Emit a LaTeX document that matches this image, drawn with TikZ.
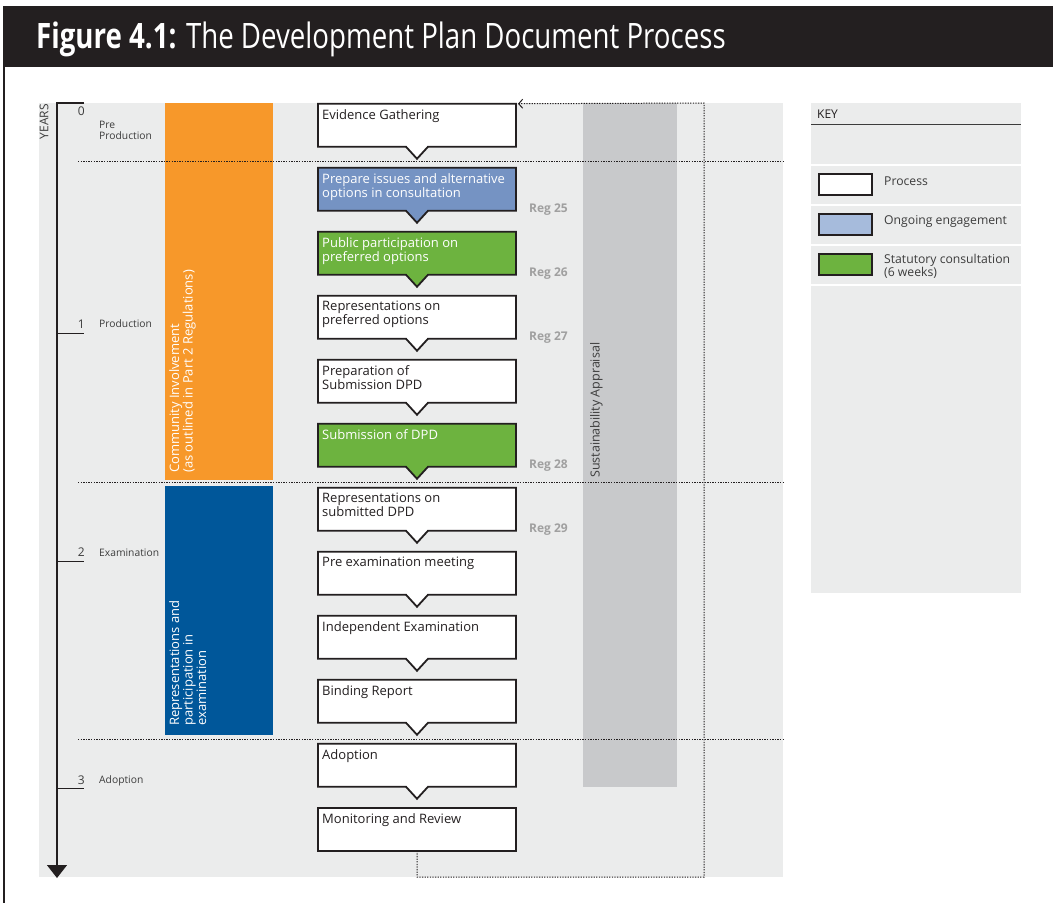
\documentclass[tikz,border=0pt]{standalone}
\usepackage{fontspec}
\setmainfont{Open Sans}
\newfontfamily\titlefont[FakeStretch=0.79]{Open Sans}
\usetikzlibrary{arrows.meta}
\definecolor{bg}{HTML}{EBECEC}
\definecolor{ink}{HTML}{231F20}
\definecolor{orangebar}{HTML}{F7982A}
\definecolor{navy}{HTML}{00579A}
\definecolor{sagray}{HTML}{C8C9CB}
\definecolor{engage}{HTML}{7593C3}
\definecolor{engagekey}{HTML}{A6BBDC}
\definecolor{statgreen}{HTML}{6DB33F}
\definecolor{reggray}{HTML}{A0A0A0}
\definecolor{labgray}{HTML}{3C3C3C}
\newcommand\topstrut{\rule{0pt}{9.5pt}}
\tikzset{
  boxslot/.style={rectangle, minimum width=198pt, minimum height=43pt, inner sep=0pt, outer sep=0pt},
  procline/.style={draw=ink, line width=1.8pt, line join=miter},
  lastbox/.style={boxslot, draw=ink, line width=1.8pt, fill=white},
  boxtext/.style={anchor=north west, inner sep=0pt, align=left,
    font=\fontsize{13}{14.2}\selectfont, text=ink},
  wtext/.style={boxtext, text=white},
  reglabel/.style={anchor=base west, inner sep=0pt,
    font=\bfseries\fontsize{12}{14}\selectfont, text=reggray},
  divider/.style={draw=ink, line width=0.9pt, dash pattern=on 1.3pt off 1.3pt},
  yearnum/.style={anchor=east, inner sep=0pt, font=\fontsize{12}{14}\selectfont, text=labgray},
  yearlab/.style={anchor=west, inner sep=0pt, align=left, font=\fontsize{10.3}{11}\selectfont, text=labgray},
  bartext/.style={rotate=90, anchor=north west, inner sep=0pt, align=left,
    font=\fontsize{13}{13.5}\selectfont, text=white},
  swatch/.style={rectangle, draw=ink, line width=1.8pt, minimum width=53pt, minimum height=21pt, inner sep=0pt},
  keylab/.style={anchor=west, inner sep=0pt, align=left, font=\fontsize{12.2}{11.5}\selectfont, text=labgray},
  sep/.style={draw=white, line width=1.3pt},
}
\newcommand\procshape[2]{%
  \draw[procline, fill=#2] (#1.north west) -- (#1.north east) -- (#1.south east)
    -- ([xshift=11pt]#1.south) -- ([yshift=-12pt]#1.south) -- ([xshift=-11pt]#1.south)
    -- (#1.south west) -- cycle;}
\begin{document}
\begin{tikzpicture}[x=1pt,y=-1pt]
\useasboundingbox (0,0) rectangle (1053,903);
% frame and title
\fill[ink] (3,6) rectangle (1053,67);
\draw[ink, line width=1.3pt] (4,67) -- (4,903);
\node[anchor=base west, inner sep=0pt, text=white, font=\titlefont\fontsize{35}{40}\selectfont] (title) at (36,48)
  {\textbf{Figure 4.1:} The Development Plan Document Process};
% panels
\fill[bg] (39,103) rectangle (783,877);
\fill[bg] (811,103) rectangle (1021,593);
% bars
\node[fill=orangebar, anchor=north west, minimum width=108pt, minimum height=377pt, inner sep=0pt] (ci) at (165,103) {};
\node[fill=navy, anchor=north west, minimum width=108pt, minimum height=249pt, inner sep=0pt] (rp) at (165,486) {};
\node[fill=sagray, anchor=north west, minimum width=94pt, minimum height=684pt, inner sep=0pt] (sa) at (583,103) {};
\node[bartext] (citext) at (169,473) {\topstrut Community Involvement\\(as outlined in Part 2 Regulations)};
\node[bartext] (rptext) at (169,726) {\topstrut Representations and\\participation in\\examination};
\node[bartext, text=labgray, font=\fontsize{12.5}{13.5}\selectfont] (satext) at (590,478) {\topstrut Sustainability Appraisal};
% dividers
\draw[divider] (78,161) -- (783,161);
\draw[divider] (78,482) -- (783,482);
\draw[divider] (78,739) -- (783,739);
% years axis
\coordinate (axtop) at (57,103);
\coordinate (axbot) at (57,878);
\draw[ink, line width=1.3pt, -{Triangle[width=20pt,length=13pt]}] (84,103) -- (axtop) -- (axbot);
\draw[ink, line width=1pt] (57,333) -- (84,333);
\draw[ink, line width=1pt] (57,561) -- (84,561);
\draw[ink, line width=1pt] (57,788) -- (84,788);
\node[rotate=90, inner sep=0pt, font=\fontsize{12}{13}\selectfont, text=labgray] (years) at (44,121.5) {YEARS};
\node[yearnum] (y0) at (85,111) {0};
\node[yearnum] (y1) at (85,324) {1};
\node[yearnum] (y2) at (85,552) {2};
\node[yearnum] (y3) at (85,780) {3};
\node[yearlab] (l0) at (99,130.5) {Pre\\Production};
\node[yearlab] (l1) at (99,324) {Production};
\node[yearlab] (l2) at (99,553) {Examination};
\node[yearlab] (l3) at (99,781) {Adoption};
% process boxes
\node[boxslot] (b0) at (417,125.25) {};
\node[boxslot] (b1) at (417,189.25) {};
\node[boxslot] (b2) at (417,253.25) {};
\node[boxslot] (b3) at (417,317.25) {};
\node[boxslot] (b4) at (417,381.25) {};
\node[boxslot] (b5) at (417,445.25) {};
\node[boxslot] (b6) at (417,509.25) {};
\node[boxslot] (b7) at (417,573.25) {};
\node[boxslot] (b8) at (417,637.25) {};
\node[boxslot] (b9) at (417,701.25) {};
\node[boxslot] (b10) at (417,765.25) {};
\procshape{b0}{white}
\procshape{b1}{engage}
\procshape{b2}{statgreen}
\procshape{b3}{white}
\procshape{b4}{white}
\procshape{b5}{statgreen}
\procshape{b6}{white}
\procshape{b7}{white}
\procshape{b8}{white}
\procshape{b9}{white}
\procshape{b10}{white}
\node[lastbox] (b11) at (417,829.25) {};
% feedback loop
\coordinate (lc1) at (417,877);
\coordinate (lc2) at (704,877);
\coordinate (lc3) at (704,103);
\draw[ink, line width=1pt, dash pattern=on 1.3pt off 1.3pt, -{Straight Barb[length=4pt,width=9pt]}]
  (b11.south) -- (lc1) -- (lc2) -- (lc3) -- ([xshift=2pt]b0.north east);
\node[boxtext] (t0) at (322,109) {\topstrut Evidence Gathering};
\node[wtext] (t1) at (322,173) {\topstrut Prepare issues and alternative\\options in consultation};
\node[wtext] (t2) at (322,237) {\topstrut Public participation on\\preferred options};
\node[boxtext] (t3) at (322,301) {\topstrut Representations on\\preferred options};
\node[boxtext] (t4) at (322,365) {\topstrut Preparation of\\Submission DPD};
\node[wtext] (t5) at (322,429) {\topstrut Submission of DPD};
\node[boxtext] (t6) at (322,493) {\topstrut Representations on\\submitted DPD};
\node[boxtext] (t7) at (322,557) {\topstrut Pre examination meeting};
\node[boxtext] (t8) at (322,621) {\topstrut Independent Examination};
\node[boxtext] (t9) at (322,685) {\topstrut Binding Report};
\node[boxtext] (t10) at (322,749) {\topstrut Adoption};
\node[boxtext] (t11) at (322,813) {\topstrut Monitoring and Review};
% regulation labels
\node[reglabel] (r25) at (529,212) {Reg 25};
\node[reglabel] (r26) at (529,276) {Reg 26};
\node[reglabel] (r27) at (529,340) {Reg 27};
\node[reglabel] (r28) at (529,468) {Reg 28};
\node[reglabel] (r29) at (529,532) {Reg 29};
% key
\node[anchor=west, inner sep=0pt, font=\fontsize{12}{14}\selectfont, text=ink] (key) at (817,114) {KEY};
\draw[labgray, line width=1pt] (811,124) -- (1021,124);
\draw[sep] (811,165) -- (1021,165);
\draw[sep] (811,205) -- (1021,205);
\draw[sep] (811,245) -- (1021,245);
\draw[sep] (811,285) -- (1021,285);
\node[swatch, fill=white] (k1) at (845.5,184.5) {};
\node[swatch, fill=engagekey] (k2) at (845.5,224.5) {};
\node[swatch, fill=statgreen] (k3) at (845.5,264.5) {};
\node[keylab] (kl1) at (884,181) {Process};
\node[keylab] (kl2) at (884,221) {Ongoing engagement};
\node[keylab] (kl3) at (884,266.5) {Statutory consultation\\(6 weeks)};
\end{tikzpicture}
\end{document}
